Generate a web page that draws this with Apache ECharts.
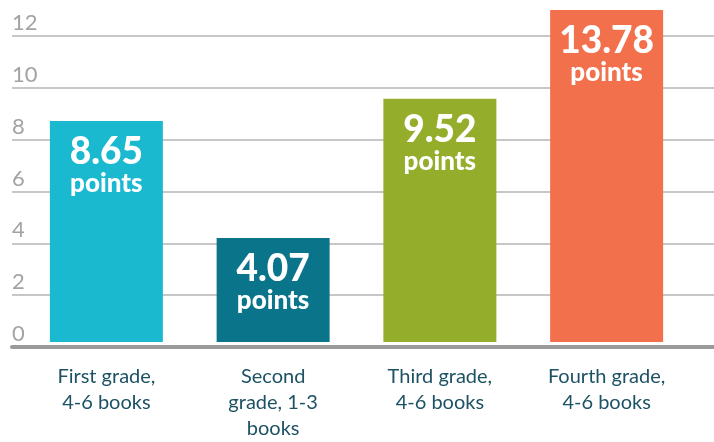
<!DOCTYPE html>
<html><head><meta charset="utf-8">
<script src="https://cdn.jsdelivr.net/npm/echarts@6/dist/echarts.min.js"></script>
<style>html,body{margin:0;padding:0;background:#fff}#c{width:714px;height:442px}</style>
</head><body><div id="c"></div>
<script>
const categories = ['First grade,\n4-6 books', 'Second\ngrade, 1-3\nbooks', 'Third grade,\n4-6 books', 'Fourth grade,\n4-6 books'];
const values = [8.65, 4.07, 9.52, 13.78];
const barColors = ['#1ab9d0', '#0a758a', '#94ae2c', '#f3704d'];
const unitLabel = 'points';
const yTicks = [0, 2, 4, 6, 8, 10, 12];

const chart = echarts.init(document.getElementById('c'));
const FONT = 'Lato, "Open Sans", sans-serif';
const YMAX = 13;
chart.setOption({
  animation: false,
  grid: [
    {left: 12, right: 0, top: 10, bottom: 95},
    {left: 23, right: 24, top: 10, bottom: 95}
  ],
  xAxis: [
    {gridIndex: 0, type: 'category', data: ['a'], axisTick: {show: false}, axisLabel: {show: false},
     axisLine: {show: true, lineStyle: {color: '#9a9a9a', width: 4}}, z: 5},
    {gridIndex: 1, type: 'category', data: categories, axisTick: {show: false},
     axisLine: {show: false},
     axisLabel: {margin: 22, color: '#1d5264', fontFamily: FONT, fontSize: 20, lineHeight: 26, interval: 0}}
  ],
  yAxis: [
    {gridIndex: 0, type: 'value', min: 0, max: YMAX, interval: 2,
     axisLine: {show: false}, axisTick: {show: false},
     splitLine: {show: true, showMaxLine: false, showMinLine: false, lineStyle: {color: '#b4b4b4', width: 1.5}},
     axisLabel: {inside: true, margin: 0, verticalAlign: 'bottom', padding: [0, 0, 2, 0], color: '#a3a3a3', fontFamily: FONT, fontSize: 22,
       showMaxLabel: false, formatter: v => yTicks.indexOf(v) >= 0 ? String(v) : ''}},
    {gridIndex: 1, type: 'value', min: 0, max: YMAX, interval: 2, show: false, splitLine: {show: false}}
  ],
  series: [{
    type: 'bar', xAxisIndex: 1, yAxisIndex: 1, barWidth: 113, clip: true, z: 3,
    data: values.map((v, i) => ({value: v, itemStyle: {color: barColors[i]}})),
    label: {
      show: true, position: 'insideTop', distance: 14,
      formatter: p => '{a|' + p.value.toFixed(2) + '}\n{b|' + unitLabel + '}',
      rich: {
        a: {color: '#fff', fontFamily: FONT, fontWeight: 900, fontSize: 37, lineHeight: 34},
        b: {color: '#fff', fontFamily: FONT, fontWeight: 900, fontSize: 26, lineHeight: 30}
      }
    }
  }]
});
</script></body></html>
